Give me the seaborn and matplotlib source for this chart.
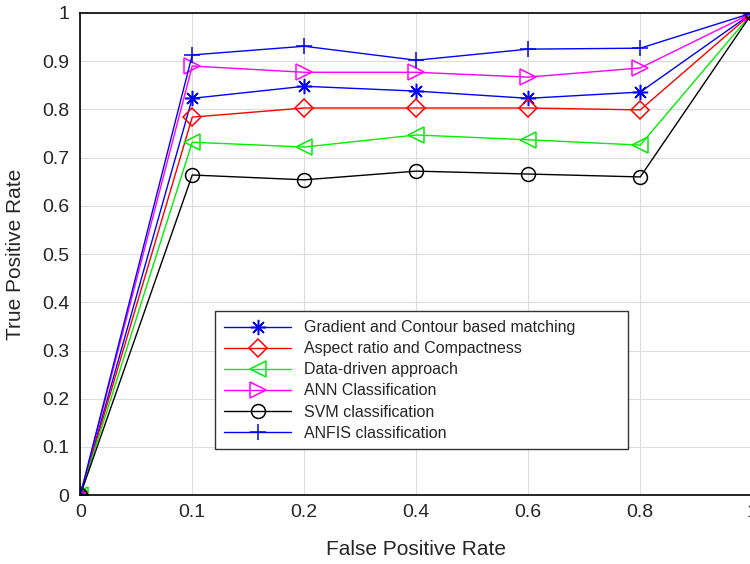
import numpy as np
import pandas as pd
import matplotlib
matplotlib.use("Agg")
import matplotlib.pyplot as plt
import seaborn as sns

# -----------------------------
# DATA
# -----------------------------
fpr_labels = ["0", "0.1", "0.2", "0.4", "0.6", "0.8", "1"]

gradient = [0, 0.823, 0.848, 0.838, 0.823, 0.836, 1]
aspect = [0, 0.784, 0.803, 0.803, 0.803, 0.799, 1]
data_driven = [0, 0.732, 0.722, 0.747, 0.737, 0.726, 1]
ann = [0, 0.890, 0.877, 0.877, 0.867, 0.886, 1]
svm = [0, 0.664, 0.654, 0.672, 0.666, 0.660, 1]
anfis = [0, 0.913, 0.931, 0.902, 0.925, 0.927, 1]

series_names = [
    "Gradient and Contour based matching",
    "Aspect ratio and Compactness",
    "Data-driven approach",
    "ANN Classification",
    "SVM classification",
    "ANFIS classification",
]
series_values = [gradient, aspect, data_driven, ann, svm, anfis]

# -----------------------------
# STYLE
# -----------------------------
sns.set_theme(style="whitegrid")
plt.rcParams["font.family"] = ["Liberation Sans", "DejaVu Sans"]

styles = [
    dict(color="#0000ff", marker=(8, 2, 0), ms=11),
    dict(color="#ff0000", marker="D", ms=9),
    dict(color="#00ee00", marker="<", ms=11),
    dict(color="#ff00ff", marker=">", ms=11),
    dict(color="#000000", marker="o", ms=10),
    dict(color="#0000ff", marker="+", ms=12),
]

fig = plt.figure(figsize=(7.5, 5.64), dpi=100)
ax = fig.add_axes([0.107, 0.122, 0.896, 0.855])

x_pos = np.arange(len(fpr_labels))

for name, vals, st in zip(series_names, series_values, styles):
    df = pd.DataFrame({"fpr": x_pos, "tpr": vals})
    sns.lineplot(
        data=df, x="fpr", y="tpr", ax=ax,
        color=st["color"], marker=st["marker"], markersize=st["ms"],
        markerfacecolor="none", markeredgecolor=st["color"],
        markeredgewidth=1.1, linewidth=1.0, label=name
    )

ax.set_xlim(0, 6)
ax.set_ylim(0, 1)
ax.set_xticks(x_pos)
ax.set_xticklabels(fpr_labels)
ax.set_yticks(np.round(np.arange(0, 1.01, 0.1), 1))
ax.set_yticklabels(["0"] + [f"{v:.1f}" for v in np.arange(0.1, 0.95, 0.1)] + ["1"])

ax.tick_params(axis="both", direction="in", labelsize=14, length=6,
               color="black")
ax.tick_params(axis="y", pad=8)
ax.tick_params(axis="x", pad=6)
ax.set_xlabel("False Positive Rate", fontsize=15, labelpad=14)
ax.set_ylabel("True Positive Rate", fontsize=15, labelpad=12)

ax.grid(True, color="#dddddd", linewidth=0.8)
for sp in ax.spines.values():
    sp.set_visible(True)
    sp.set_color("black")
    sp.set_linewidth(1.2)
ax.set_facecolor("white")

leg = ax.legend(
    loc="lower left", bbox_to_anchor=(0.201, 0.095, 0.614, 0.305),
    mode="expand", fancybox=False, framealpha=1, edgecolor="#333333",
    fontsize=11.5, borderaxespad=0, handlelength=4.2, labelspacing=0.38,
    borderpad=0.55
)
leg.get_frame().set_linewidth(1.0)

fig.savefig("out.png", dpi=100)
